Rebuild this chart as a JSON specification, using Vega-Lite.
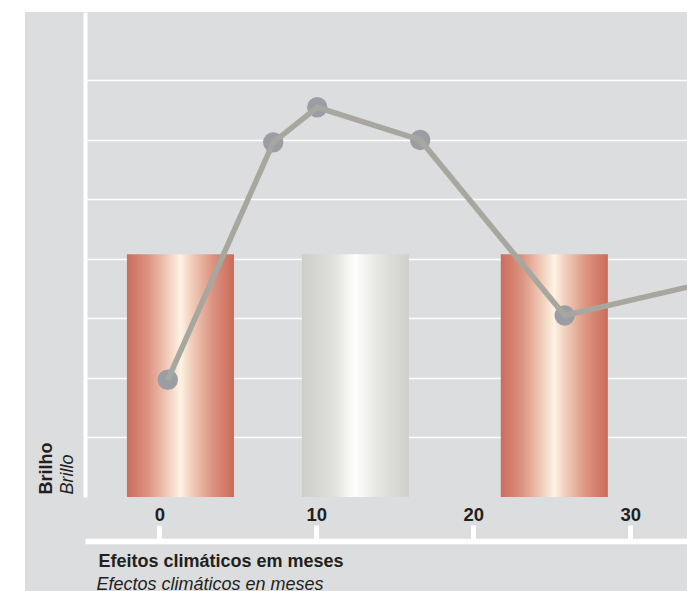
{
  "$schema": "https://vega.github.io/schema/vega-lite/v6.json",
  "width": 662,
  "height": 579,
  "autosize": {"type": "none"},
  "padding": {"left": 25, "top": 12, "right": 0, "bottom": 0},
  "background": "white",
  "config": {
    "view": {"fill": "#dcdddf", "stroke": null},
    "font": "Liberation Sans"
  },
  "datasets": {
    "bars": [
      {"start": -2.06, "end": 4.76, "value": 4.08, "kind": "red"},
      {"start": 9.08, "end": 15.9, "value": 4.08, "kind": "gray"},
      {"start": 21.75, "end": 28.57, "value": 4.08, "kind": "red"}
    ],
    "series": [
      {"month": 0.54, "brightness": 1.97},
      {"month": 7.26, "brightness": 5.96},
      {"month": 10.06, "brightness": 6.55},
      {"month": 16.62, "brightness": 6.0},
      {"month": 25.82, "brightness": 3.05},
      {"month": 36, "brightness": 3.67}
    ]
  },
  "layer": [
    {
      "data": {"name": "bars"},
      "transform": [{"filter": "datum.kind === 'red'"}],
      "mark": {
        "type": "rect",
        "fill": {
          "gradient": "linear", "x1": 0, "x2": 1, "y1": 0, "y2": 0,
          "stops": [
            {"offset": 0, "color": "#cc6d5c"},
            {"offset": 0.2, "color": "#dc9481"},
            {"offset": 0.4, "color": "#f2d2c0"},
            {"offset": 0.5, "color": "#fef2e5"},
            {"offset": 0.6, "color": "#f1cfbd"},
            {"offset": 0.8, "color": "#dc9380"},
            {"offset": 1, "color": "#cb6b5a"}
          ]
        }
      },
      "encoding": {
        "x": {
          "field": "start", "type": "quantitative",
          "scale": {"domain": [-4.73, 33.61], "range": [60, 662], "nice": false, "zero": false},
          "axis": {
            "orient": "bottom", "offset": -50, "values": [0, 10, 20, 30], "format": "d",
            "grid": false,
            "domainColor": "white", "domainWidth": 5.5,
            "tickColor": "white", "tickWidth": 5, "tickSize": -16,
            "labelFontSize": 18.5, "labelFontWeight": "bold", "labelColor": "#231f20",
            "labelBaseline": "alphabetic", "labelPadding": -4.5,
            "title": "Efeitos climáticos em meses",
            "titleFontSize": 18, "titleFontWeight": "bold", "titleColor": "#231f20",
            "titleAnchor": "start", "titleAlign": "left", "titleBaseline": "alphabetic",
            "titleX": 73, "titleY": 25
          }
        },
        "x2": {"field": "end"},
        "y": {
          "field": "value", "type": "quantitative",
          "scale": {"domain": [0, 8.151], "range": [485, 0], "nice": false, "zero": false},
          "axis": {
            "orient": "left", "offset": -60, "values": [1, 2, 3, 4, 5, 6, 7],
            "grid": true, "gridColor": "white", "gridWidth": 1.5,
            "domainColor": "white", "domainWidth": 4,
            "ticks": false, "labels": false,
            "title": "Brilho",
            "titleFontSize": 18, "titleFontWeight": "bold", "titleColor": "#231f20",
            "titleAngle": 270, "titleAlign": "left", "titleBaseline": "alphabetic",
            "titleX": -34, "titleY": 482
          }
        },
        "y2": {"datum": 0}
      }
    },
    {
      "data": {"name": "bars"},
      "transform": [{"filter": "datum.kind === 'gray'"}],
      "mark": {
        "type": "rect",
        "fill": {
          "gradient": "linear", "x1": 0, "x2": 1, "y1": 0, "y2": 0,
          "stops": [
            {"offset": 0, "color": "#cdcec9"},
            {"offset": 0.3, "color": "#e0e1dc"},
            {"offset": 0.5, "color": "#ffffff"},
            {"offset": 0.7, "color": "#e6e7e3"},
            {"offset": 1, "color": "#cfd0cb"}
          ]
        }
      },
      "encoding": {
        "x": {
          "field": "start", "type": "quantitative",
          "scale": {"domain": [-4.73, 33.61], "range": [60, 662], "nice": false, "zero": false},
          "axis": null
        },
        "x2": {"field": "end"},
        "y": {
          "field": "value", "type": "quantitative",
          "scale": {"domain": [0, 8.151], "range": [485, 0], "nice": false, "zero": false},
          "axis": null
        },
        "y2": {"datum": 0}
      }
    },
    {
      "data": {"name": "series"},
      "mark": {"type": "point", "filled": true, "size": 415, "color": "#9b9da4", "opacity": 1, "clip": true},
      "encoding": {
        "x": {
          "field": "month", "type": "quantitative",
          "scale": {"domain": [-4.73, 33.61], "range": [60, 662], "nice": false, "zero": false},
          "axis": {
            "orient": "bottom", "offset": -50, "domain": false, "ticks": false, "labels": false, "grid": false,
            "title": "Efectos climáticos en meses",
            "titleFontSize": 18, "titleFontWeight": "normal", "titleFontStyle": "italic", "titleColor": "#231f20",
            "titleAnchor": "start", "titleAlign": "left", "titleBaseline": "alphabetic",
            "titleX": 71, "titleY": 48
          }
        },
        "y": {
          "field": "brightness", "type": "quantitative",
          "scale": {"domain": [0, 8.151], "range": [485, 0], "nice": false, "zero": false},
          "axis": {
            "orient": "left", "offset": -60, "domain": false, "ticks": false, "labels": false, "grid": false,
            "title": "Brillo",
            "titleFontSize": 18, "titleFontWeight": "normal", "titleFontStyle": "italic", "titleColor": "#231f20",
            "titleAngle": 270, "titleAlign": "left", "titleBaseline": "alphabetic",
            "titleX": -13, "titleY": 482
          }
        }
      }
    },
    {
      "data": {"name": "series"},
      "mark": {"type": "line", "color": "#a7a79f", "strokeWidth": 5.5, "clip": true},
      "encoding": {
        "x": {
          "field": "month", "type": "quantitative",
          "scale": {"domain": [-4.73, 33.61], "range": [60, 662], "nice": false, "zero": false},
          "axis": null
        },
        "y": {
          "field": "brightness", "type": "quantitative",
          "scale": {"domain": [0, 8.151], "range": [485, 0], "nice": false, "zero": false},
          "axis": null
        }
      }
    }
  ],
  "resolve": {"axis": {"x": "independent", "y": "independent"}}
}
